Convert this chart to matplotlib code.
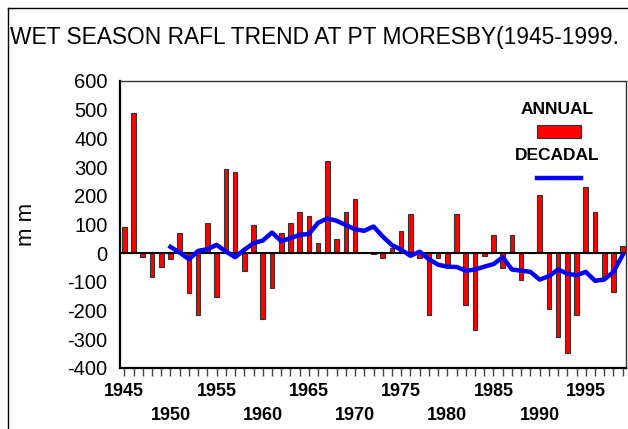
import matplotlib
matplotlib.use('Agg')
from matplotlib import pyplot as plt
from matplotlib.lines import Line2D
from matplotlib.patches import Rectangle

plt.rcParams['font.family'] = ['Liberation Sans', 'DejaVu Sans']
plt.rcParams['axes.unicode_minus'] = False

anos = list(range(1945, 2000))

# chuva anual (anomalia, mm)
anual = [92, 489, -12, -84, -49, -20, 69, -137, -217, 106,
         -152, 292, 284, -63, 99, -231, -123, 69, 106, 144,
         129, 34, 321, 48, 144, 188, 3, -3, -17, 17,
         77, 136, -17, -216, -17, -42, 136, -180, -267, -10,
         64, -50, 64, -92, 0, 202, -196, -291, -349, -215,
         231, 144, -88, -136, 26]

# media decadal
anos_dec = list(range(1950, 2000))
decadal = [22, 2, -21, 8, 14, 29, 6, -14, 12, 35,
           44, 72, 42, 52, 64, 67, 106, 121, 113, 98,
           83, 78, 93, 58, 28, 12, -9, 5, -21, -40,
           -47, -48, -61, -57, -47, -38, -14, -57, -61, -65,
           -92, -80, -57, -71, -77, -65, -96, -92, -65, -6]

rotulos_x = []
for a in anos:
    if a % 10 == 5:
        rotulos_x.append(str(a))
    elif a % 10 == 0:
        rotulos_x.append('\n' + str(a))
    else:
        rotulos_x.append('')

fig = plt.figure(figsize=(6.28, 4.29), dpi=100)
ax = fig.add_axes([0.1911, 0.1422, 0.8057, 0.669])

ax.bar(anos, anual, width=0.5, color='#ff0000', edgecolor='#333333',
       linewidth=0.8, zorder=2)
ax.axhline(0, color='black', linewidth=1.5, zorder=3)
ax.plot(anos_dec, decadal, color='#0000ff', linewidth=3.2,
        solid_joinstyle='round', zorder=4)

ax.set_xlim(1944.53, 1999.36)
ax.set_ylim(-400, 600)
ax.set_yticks(range(-400, 601, 100))
ax.tick_params(axis='y', length=0, labelsize=14.5, pad=9)
ax.set_xticks(anos)
ax.set_xticklabels(rotulos_x, fontsize=13, fontweight='bold',
                   linespacing=1.55)
ax.tick_params(axis='x', length=6, width=1, direction='out', pad=5,
               color='#444444')

for lado in ['top', 'right']:
    ax.spines[lado].set_linewidth(1.0)
    ax.spines[lado].set_color('#333333')
for lado in ['left', 'bottom']:
    ax.spines[lado].set_linewidth(1.6)

ax.set_ylabel('m m', fontsize=16)
ax.yaxis.set_label_coords(-0.164, 0.5)

# legenda
ax.text(0.864, 0.902, 'ANNUAL', transform=ax.transAxes, ha='center',
        va='center', fontsize=12.5, fontweight='bold')
ax.add_patch(Rectangle((0.824, 0.801), 0.087, 0.046, transform=ax.transAxes,
                       facecolor='#ff0000', edgecolor='#333333',
                       linewidth=0.8, zorder=5))
ax.text(0.864, 0.739, 'DECADAL', transform=ax.transAxes, ha='center',
        va='center', fontsize=12.5, fontweight='bold')
ax.add_line(Line2D([0.824, 0.911], [0.662, 0.662], transform=ax.transAxes,
                   color='#0000ff', linewidth=3.2, zorder=5))

# titulo (no original ele passa da borda direita)
fig.text(0.016, 0.912, 'WET SEASON RAFL TREND AT PT MORESBY(1945-1999.',
         fontsize=16.4, ha='left', va='center')

# moldura externa
fig.add_artist(Line2D([0.0127, 0.0127], [0.0, 0.981], color='black',
                      linewidth=1.0))
fig.add_artist(Line2D([0.0127, 1.0], [0.981, 0.981], color='black',
                      linewidth=1.0))

plt.savefig('out.png')
plt.close(fig)
